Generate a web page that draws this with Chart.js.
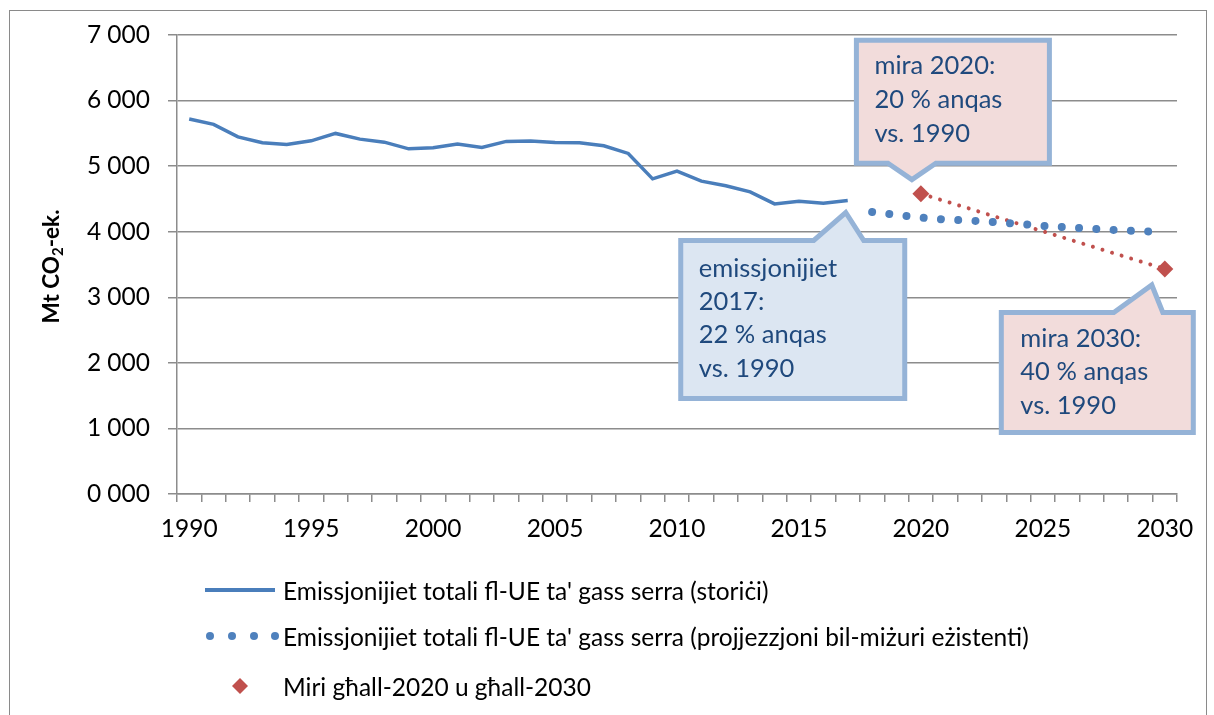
<!DOCTYPE html>
<html><head><meta charset="utf-8">
<script src="https://cdn.jsdelivr.net/npm/chart.js@4.4.1/dist/chart.umd.min.js"></script>
<style>
html,body{margin:0;padding:0;background:#fff;}
#wrap{position:relative;width:1214px;height:715px;overflow:hidden;background:#fff;}
#frame{position:absolute;left:9px;top:10px;width:1198px;height:760px;border:1.5px solid #8a8a8a;box-sizing:border-box;}
#c{position:absolute;left:0;top:0;}
.item{position:absolute;left:205px;height:30px;display:flex;align-items:center;font-family:Lato,sans-serif;font-size:24.5px;color:#000;white-space:nowrap;}
.sym{width:78px;height:30px;flex:none;}
</style></head>
<body><div id="wrap"><div id="frame"></div><canvas id="c" width="1214" height="715"></canvas>
<div id="legend"></div></div>
<script>
// ---- data ----
const years = ['1990','1991','1992','1993','1994','1995','1996','1997','1998','1999',
  '2000','2001','2002','2003','2004','2005','2006','2007','2008','2009',
  '2010','2011','2012','2013','2014','2015','2016','2017','2018','2019',
  '2020','2021','2022','2023','2024','2025','2026','2027','2028','2029','2030'];
const historicYears = years.slice(0, 28);
const historic = [5718, 5637, 5447, 5356, 5331, 5386, 5499, 5412, 5366, 5264,
  5279, 5336, 5285, 5377, 5382, 5362, 5356, 5310, 5194, 4806,
  4924, 4771, 4700, 4608, 4424, 4466, 4435, 4476];
const projYears = ['2018','2019','2020','2021','2022','2023','2024','2025','2026','2027','2028','2029','2030'];
const projection = [4302, 4257, 4215, 4185, 4170, 4148, 4120, 4090, 4068, 4045, 4025, 4008, 3992];
const targetYears = ['2020','2030'];
const targets = [4580, 3432];
const yTicks = [0, 1000, 2000, 3000, 4000, 5000, 6000, 7000];
const seriesNames = [
  "Emissjonijiet totali fl-UE ta' gass serra (storiċi)",
  "Emissjonijiet totali fl-UE ta' gass serra (projjezzjoni bil-miżuri eżistenti)",
  "Miri għall-2020 u għall-2030"
];
const callouts = [
  {lines:['emissjonijiet','2017:','22 % anqas','vs. 1990'], fill:'#dce6f2'},
  {lines:['mira 2020:','20 % anqas','vs. 1990'], fill:'#f2dcdb'},
  {lines:['mira 2030:','40 % anqas','vs. 1990'], fill:'#f2dcdb'}
];

const BLUE = '#4a7ebb', RED = '#c0504d', GRID = '#8c8c8c';
const FONT = 'Lato, sans-serif';

// ---- legend (HTML) ----
const legendSyms = [
  '<svg class="sym" viewBox="0 0 78 30"><line x1="0" y1="15" x2="70" y2="15" stroke="'+BLUE+'" stroke-width="4"/></svg>',
  '<svg class="sym" viewBox="0 0 78 30"><circle cx="5" cy="15" r="4" fill="#4f81bd"/><circle cx="27" cy="15" r="4" fill="#4f81bd"/><circle cx="49" cy="15" r="4" fill="#4f81bd"/><circle cx="70" cy="15" r="4" fill="#4f81bd"/></svg>',
  '<svg class="sym" viewBox="0 0 78 30"><polygon points="35,7 43,15 35,23 27,15" fill="'+RED+'"/></svg>'
];
const legendTops = [575, 621, 671];
document.getElementById('legend').innerHTML = seriesNames.map((n,i)=>
  '<div class="item" style="top:'+legendTops[i]+'px">'+legendSyms[i]+'<span>'+n+'</span></div>').join('');

// ---- annotation plugin ----
function drawCallout(ctx, pts, fill){
  ctx.save();
  ctx.beginPath();
  pts.forEach((p,i)=> i? ctx.lineTo(p[0],p[1]) : ctx.moveTo(p[0],p[1]));
  ctx.closePath();
  ctx.fillStyle = fill; ctx.fill();
  ctx.lineWidth = 5; ctx.strokeStyle = '#95b3d7'; ctx.lineJoin = 'miter';
  ctx.stroke();
  ctx.restore();
}
function drawLines(ctx, lines, x, y0, dy){
  ctx.save();
  ctx.fillStyle = '#1f497d';
  ctx.font = '25.5px ' + FONT;
  ctx.textBaseline = 'middle';
  ctx.textAlign = 'left';
  lines.forEach((t,i)=> ctx.fillText(t, x, y0 + i*dy));
  ctx.restore();
}
const annot = {
  id:'annot',
  afterDatasetsDraw(chart){
    const ctx = chart.ctx, xs = chart.scales.x, ys = chart.scales.y;
    // callout 1 anchored at last historic point
    let ax = xs.getPixelForValue(years.indexOf('2017')), ay = ys.getPixelForValue(historic[historic.length-1]);
    let tx = ax - 2, ty = ay + 12;
    let L = tx-165, R = tx+59, T = ty+28, B = ty+186;
    drawCallout(ctx, [[L,T],[tx-32,T],[tx,ty],[tx+18,T],[R,T],[R,B],[L,B]], callouts[0].fill);
    drawLines(ctx, callouts[0].lines, L+18, T+28, 33.3);
    // callout 2 anchored at 2020 target
    ax = xs.getPixelForValue(years.indexOf('2020')); ay = ys.getPixelForValue(targets[0]);
    tx = ax - 9; ty = ay - 14;
    L = tx-55.5; R = tx+137.5; T = ty-139.5; B = ty-16.5;
    drawCallout(ctx, [[L,T],[R,T],[R,B],[tx+24,B],[tx,ty],[tx-24,B],[L,B]], callouts[1].fill);
    drawLines(ctx, callouts[1].lines, L+18, T+26, 34);
    // callout 3 anchored at 2030 target
    ax = xs.getPixelForValue(years.indexOf('2030')); ay = ys.getPixelForValue(targets[1]);
    tx = ax - 13; ty = ay + 16;
    L = tx-150.5; R = tx+41.5; T = ty+27.5; B = ty+147.5;
    drawCallout(ctx, [[L,T],[tx-38,T],[tx,ty],[tx+11,T],[R,T],[R,B],[L,B]], callouts[2].fill);
    drawLines(ctx, callouts[2].lines, L+19, T+26, 33.5);
  },
  afterDraw(chart){
    const ctx = chart.ctx, a = chart.chartArea;
    ctx.save();
    ctx.translate(52, (a.top + a.bottom)/2 + 2);
    ctx.rotate(-Math.PI/2);
    ctx.fillStyle = '#000';
    ctx.textBaseline = 'middle';
    const big = 'bold 22.5px ' + FONT, small = 'bold 15px ' + FONT;
    ctx.font = big; const w1 = ctx.measureText('Mt CO').width, w3 = ctx.measureText('-ek.').width;
    ctx.font = small; const w2 = ctx.measureText('2').width;
    let x = -(w1+w2+w3)/2;
    ctx.font = big; ctx.fillText('Mt CO', x, 0); x += w1;
    ctx.font = small; ctx.fillText('2', x, 6); x += w2;
    ctx.font = big; ctx.fillText('-ek.', x, 0);
    ctx.restore();
  }
};

new Chart(document.getElementById('c'), {
  type:'line',
  data:{
    labels: years,
    datasets:[
      {label:seriesNames[0], data: historicYears.map((y,i)=>({x:y, y:historic[i]})),
        borderColor:BLUE, borderWidth:3.5, pointRadius:0, tension:0, fill:false},
      {label:seriesNames[1], data: projYears.map((y,i)=>({x:y, y:projection[i]})),
        borderColor:'#4f81bd', borderWidth:8, borderDash:[0.001, 17.3], borderCapStyle:'round',
        pointRadius:0, tension:0, fill:false},
      {label:seriesNames[2], data: targetYears.map((y,i)=>({x:y, y:targets[i]})),
        borderColor:RED, borderWidth:4, borderDash:[0.001, 10], borderCapStyle:'round',
        pointStyle:'rectRot', pointRadius:8.5, pointBackgroundColor:RED, pointBorderWidth:0,
        showLine:true, spanGaps:true, tension:0, fill:false}
    ]
  },
  options:{
    responsive:false, animation:false, events:[],
    layout:{padding:{left:0, top:35, right:37, bottom:141}},
    plugins:{legend:{display:false}, tooltip:{enabled:false}},
    scales:{
      x:{type:'category', offset:true,
        grid:{display:true, drawOnChartArea:false, drawTicks:true, tickLength:8, offset:true, color:GRID, lineWidth:1.5},
        border:{display:true, color:GRID, width:1.5},
        ticks:{autoSkip:false, maxRotation:0, minRotation:0, padding:12, color:'#000', font:{family:FONT, size:24.5},
          callback:(v,i)=> (+years[i]) % 5 === 0 ? years[i] : ''},
        afterFit:(s)=>{ s.height = 80; }
      },
      y:{min:0, max:7000,
        afterBuildTicks:(s)=>{ s.ticks = yTicks.map(v=>({value:v})); },
        grid:{color:GRID, lineWidth:1.5, tickLength:9},
        border:{display:true, color:GRID, width:1.5},
        ticks:{padding:18, color:'#000', font:{family:FONT, size:24.5},
          callback:(v)=> (v/1000) + ' 000'},
        afterFit:(s)=>{ s.width = 177; }
      }
    }
  },
  plugins:[annot]
});
</script></body></html>
